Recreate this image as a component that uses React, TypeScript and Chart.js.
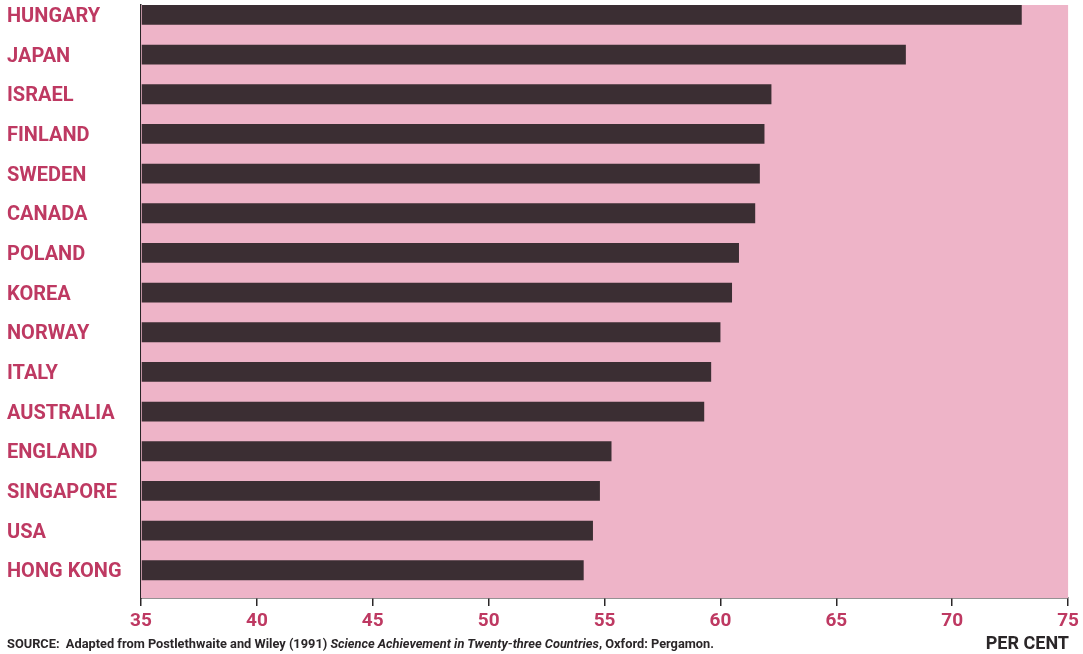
import React, { useEffect, useRef } from 'react';
import { Chart, registerables } from 'chart.js';

Chart.register(...registerables);

const countries = [
  'HUNGARY', 'JAPAN', 'ISRAEL', 'FINLAND', 'SWEDEN', 'CANADA', 'POLAND', 'KOREA',
  'NORWAY', 'ITALY', 'AUSTRALIA', 'ENGLAND', 'SINGAPORE', 'USA', 'HONG KONG',
];
const percentCorrect = [73.0, 68.0, 62.2, 61.9, 61.7, 61.5, 60.8, 60.5, 60.0, 59.6, 59.3, 55.3, 54.8, 54.5, 54.1];
const xTickValues = [35, 40, 45, 50, 55, 60, 65, 70, 75];
const xMin = 35;
const xMax = 75;

const PINK = '#eeb4c8';
const BAR = '#3b2e33';
const CRIMSON = '#be3962';
const DARK = '#2a2628';
const FONT = 'Roboto, "Liberation Sans", Arial, sans-serif';

const pinkBackground = {
  id: 'pinkBackground',
  beforeDatasetsDraw(chart: any) {
    const { ctx, chartArea } = chart;
    ctx.save();
    ctx.fillStyle = PINK;
    ctx.fillRect(chartArea.left, chartArea.top, chartArea.right - chartArea.left, chartArea.bottom - chartArea.top);
    ctx.restore();
  },
};

export default function App() {
  const canvasRef = useRef<HTMLCanvasElement | null>(null);

  useEffect(() => {
    const canvas = canvasRef.current;
    if (!canvas) return;
    const chart = new Chart(canvas, {
      type: 'bar',
      data: {
        datasets: [
          {
            data: countries.map((c, i) => ({ x: percentCorrect[i], y: i })) as any,
            backgroundColor: BAR,
            base: xMin,
            barPercentage: 0.5,
            categoryPercentage: 1,
          } as any,
        ],
      },
      plugins: [pinkBackground],
      options: {
        indexAxis: 'y',
        responsive: false,
        animation: false,
        layout: { padding: { top: 5, right: 11, left: 7, bottom: 0 } },
        plugins: {
          legend: { display: false },
          tooltip: { enabled: false },
        },
        scales: {
          x: {
            type: 'linear',
            min: xMin,
            max: xMax,
            afterBuildTicks: (scale: any) => {
              scale.ticks = xTickValues.map((v) => ({ value: v }));
            },
            afterFit: (scale: any) => {
              scale.height = 56;
            },
            grid: {
              drawOnChartArea: false,
              drawTicks: true,
              tickLength: 8,
              color: DARK,
              lineWidth: 1.5,
            },
            border: { display: true, color: DARK, width: 1.5 },
            ticks: {
              color: CRIMSON,
              font: { family: FONT, weight: 'bold', size: 19 },
              padding: 4,
              maxRotation: 0,
              autoSkip: false,
            },
          },
          y: {
            type: 'linear',
            reverse: true,
            offset: false,
            min: -0.25,
            max: 14.7,
            afterBuildTicks: (scale: any) => {
              scale.ticks = countries.map((_, i) => ({ value: i }));
            },
            afterFit: (scale: any) => {
              scale.width = 134;
              scale.paddingTop = 0;
              scale.paddingBottom = 0;
            },
            grid: { drawOnChartArea: false, drawTicks: false },
            border: { display: true, color: DARK, width: 1.5 },
            ticks: {
              callback: (v: any) => countries[v as number] ?? '',
              crossAlign: 'far',
              labelOffset: 2,
              color: CRIMSON,
              font: { family: FONT, weight: 'bold', size: 20 },
              autoSkip: false,
            },
          },
        },
      } as any,
    });
    return () => chart.destroy();
  }, []);

  return (
    <div style={{ position: 'fixed', left: 0, top: 0, width: 1083, height: 654, background: '#ffffff' }}>
      <canvas ref={canvasRef} width={1083} height={654} style={{ display: 'block' }} />
      <div
        style={{
          position: 'absolute',
          left: 7,
          top: 636,
          fontFamily: FONT,
          fontWeight: 700,
          fontSize: 12.8,
          color: DARK,
          whiteSpace: 'nowrap',
          lineHeight: '16px',
        }}
      >
        SOURCE:&nbsp; Adapted from Postlethwaite and Wiley (1991) <i>Science Achievement in Twenty-three Countries</i>, Oxford: Pergamon.
      </div>
      <div
        style={{
          position: 'absolute',
          right: 14,
          top: 632,
          fontFamily: FONT,
          fontWeight: 700,
          fontSize: 18,
          color: DARK,
          whiteSpace: 'nowrap',
          lineHeight: '22px',
        }}
      >
        PER CENT
      </div>
    </div>
  );
}
